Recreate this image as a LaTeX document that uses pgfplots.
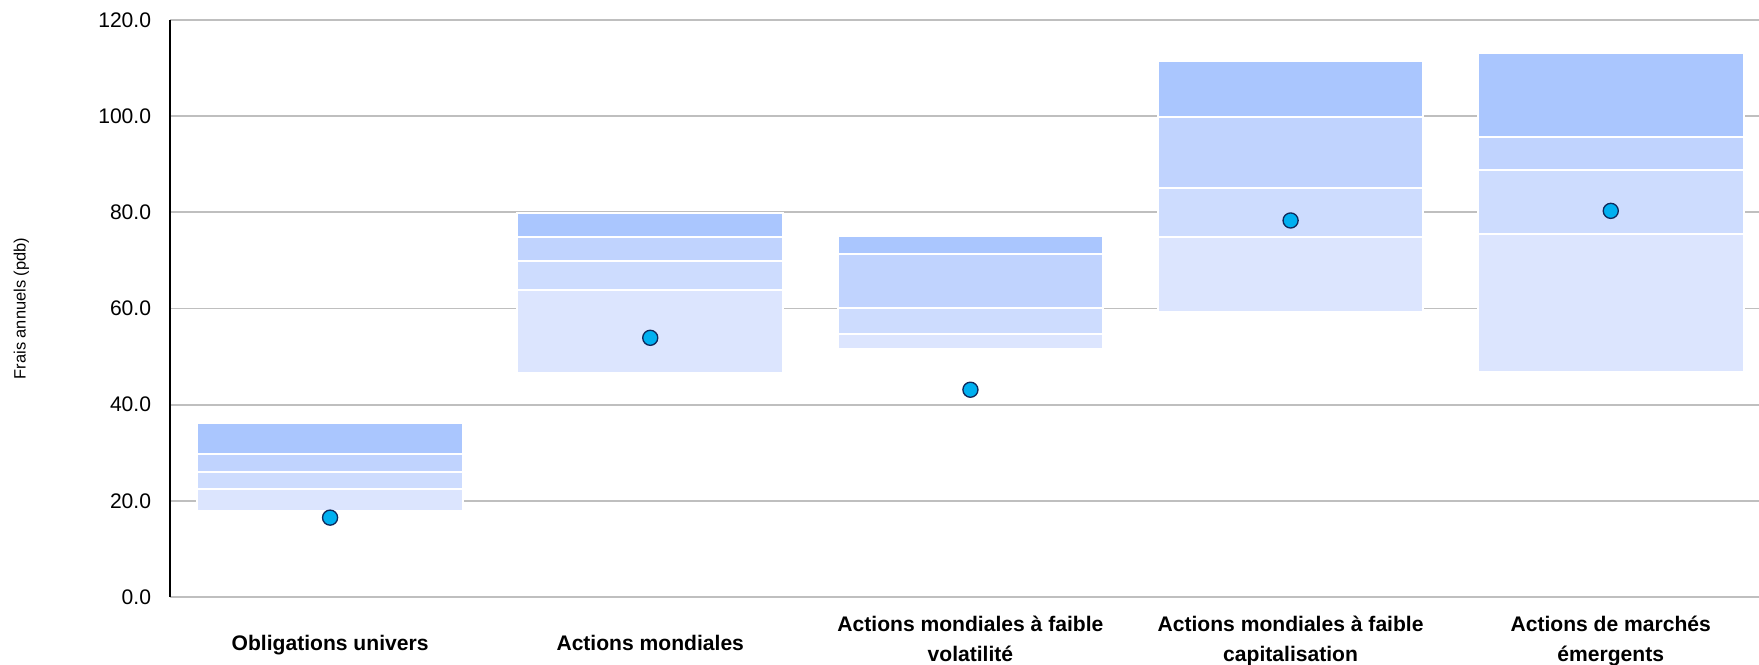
\documentclass[border=0pt]{standalone}
\usepackage{pgfplots}
\pgfplotsset{compat=1.18}
\usepackage{fontspec}
\setmainfont{Liberation Sans}
\definecolor{segA}{HTML}{DCE5FE}
\definecolor{segB}{HTML}{CDDCFE}
\definecolor{segC}{HTML}{C0D3FE}
\definecolor{segD}{HTML}{AAC6FE}
\definecolor{dotfill}{HTML}{00B0F0}
\definecolor{dotdraw}{HTML}{102A5C}
\definecolor{gridgray}{HTML}{BFBFBF}
\newcommand{\lowlabel}[1]{\strut\smash{\raisebox{-2pt}{#1}}}
\begin{document}
\begin{tikzpicture}
\pgfplotsset{common/.style={scale only axis, width=716pt, height=260pt,
  xmin=-0.5, xmax=4.463, ymin=0, ymax=120}}
\begin{axis}[common, ybar stacked, bar width=0.83,
  axis x line*=bottom, axis y line*=left,
  x axis line style={draw=gridgray, line width=0.8pt},
  y axis line style={draw=black, line width=0.8pt},
  ymajorgrids, grid style={draw=gridgray, line width=0.8pt},
  major tick length=0pt,
  ytick={0,20,...,120},
  yticklabel style={font=\fontsize{9.5}{11.4}\selectfont, xshift=-5pt,
    /pgf/number format/.cd, fixed, fixed zerofill, precision=1, assume math mode=true},
  xtick={0,1,2,3,4},
  xticklabels={{\lowlabel{Obligations univers}},{\lowlabel{Actions mondiales}},{\strut Actions mondiales à faible\\\strut volatilité},{\strut Actions mondiales à faible\\\strut capitalisation},{\strut Actions de marchés\\\strut émergents}},
  xticklabel style={font=\bfseries\fontsize{9.5}{13.6}\selectfont, align=center, anchor=center, yshift=-19.6pt},
  ylabel={Frais annuels (pdb)},
  ylabel style={font=\fontsize{7.4}{9}\selectfont, at={(axis description cs:-0.0935,0.5)}, anchor=center},
]
% invisible base
\addplot[draw=none, fill=none] coordinates {(0,17.8) (1,46.5) (2,51.6) (3,59.3) (4,46.7)};
\addplot[fill=segA, draw=white, line width=0.9pt] coordinates {(0,4.6) (1,17.4) (2,3.1) (3,15.6) (4,28.8)};
\addplot[fill=segB, draw=white, line width=0.9pt] coordinates {(0,3.5) (1,6.0) (2,5.4) (3,10.2) (4,13.4)};
\addplot[fill=segC, draw=white, line width=0.9pt] coordinates {(0,3.9) (1,5.0) (2,11.2) (3,14.8) (4,6.7)};
\addplot[fill=segD, draw=white, line width=0.9pt] coordinates {(0,6.4) (1,4.9) (2,3.7) (3,11.6) (4,17.5)};
\end{axis}
\begin{axis}[common, hide axis]
\addplot[only marks, mark=*, mark size=3.4pt, mark options={fill=dotfill, draw=dotdraw, line width=0.6pt}]
  coordinates {(0,16.5) (1,53.9) (2,43.1) (3,78.3) (4,80.3)};
\end{axis}
\pgfresetboundingbox
\path[use as bounding box] ([xshift=-76.6pt,yshift=-30.2pt]current axis.south west) rectangle ([yshift=9pt]current axis.north east);
\end{tikzpicture}
\end{document}
